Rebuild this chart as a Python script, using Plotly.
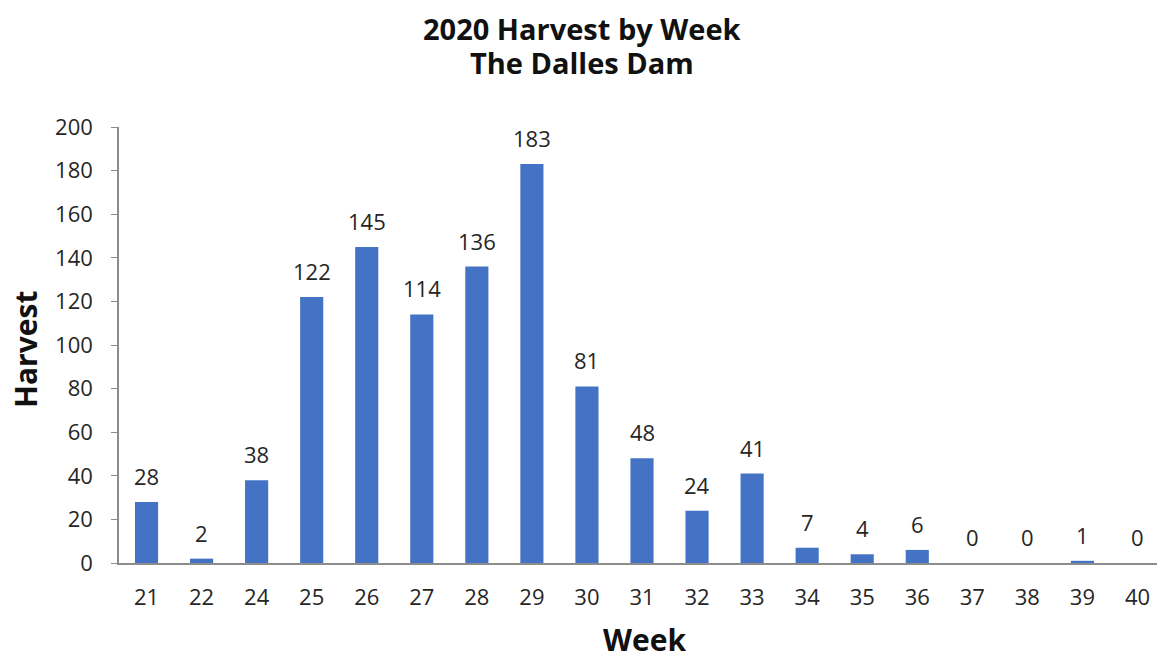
import plotly.graph_objects as go

weeks = ["21", "22", "24", "25", "26", "27", "28", "29", "30", "31",
         "32", "33", "34", "35", "36", "37", "38", "39", "40"]
harvest = [28, 2, 38, 122, 145, 114, 136, 183, 81, 48, 24, 41, 7, 4, 6, 0, 0, 1, 0]

title_lines = ["2020 Harvest by Week", "The Dalles Dam"]
x_title = "Week"
y_title = "Harvest"

FONT = "Open Sans"
TXT = "#262626"

fig = go.Figure(go.Bar(
    x=weeks, y=harvest,
    marker=dict(color="#4472C4", line=dict(width=0)),
    hoverinfo="x+y",
))

annotations = []
for i, v in enumerate(harvest):
    annotations.append(dict(
        x=i, y=v, xref="x", yref="y", text=str(v), showarrow=False,
        yanchor="bottom", xanchor="center", yshift=9,
        font=dict(family=FONT, size=22, color=TXT),
    ))

# titles (page offset of 8px body margin accounted for in margins)
annotations.append(dict(
    x=0.5, y=1, xref="paper", yref="paper", text="<b>%s</b>" % title_lines[0],
    showarrow=False, xanchor="center", yanchor="middle", xshift=-60, yshift=99,
    font=dict(family=FONT, size=29, color="#111111"),
))
annotations.append(dict(
    x=0.5, y=1, xref="paper", yref="paper", text="<b>%s</b>" % title_lines[1],
    showarrow=False, xanchor="center", yanchor="middle", xshift=-60, yshift=65,
    font=dict(family=FONT, size=29, color="#111111"),
))
annotations.append(dict(
    x=0.5, y=0, xref="paper", yref="paper", text="<b>%s</b>" % x_title,
    showarrow=False, xanchor="center", yanchor="middle", xshift=2, yshift=-76,
    font=dict(family=FONT, size=30, color="#111111"),
))
annotations.append(dict(
    x=0, y=0.5, xref="paper", yref="paper", text="<b>%s</b>" % y_title,
    showarrow=False, xanchor="center", yanchor="middle", xshift=-94, yshift=-5,
    textangle=-90,
    font=dict(family=FONT, size=30, color="#111111"),
))

fig.update_layout(
    width=1157, height=649,
    paper_bgcolor="white", plot_bgcolor="white",
    margin=dict(l=111, r=0, t=119, b=94, autoexpand=False),
    bargap=0.58,
    showlegend=False,
    annotations=annotations,
    xaxis=dict(
        type="category", range=[-0.5, len(weeks) - 0.5],
        tickmode="array", tickvals=weeks, ticktext=weeks,
        showline=True, linecolor="#8c8c8c", linewidth=1.5,
        ticks="", showgrid=False,
        tickfont=dict(family=FONT, size=22, color=TXT),
        ticklabelstandoff=14,
    ),
    yaxis=dict(
        range=[0, 200], dtick=20,
        showline=True, linecolor="#8c8c8c", linewidth=1.5,
        ticks="outside", ticklen=6, tickcolor="#8c8c8c",
        showgrid=False, zeroline=False,
        tickfont=dict(family=FONT, size=22, color=TXT),
        ticklabelstandoff=14,
    ),
)

fig.write_html("out.html")
